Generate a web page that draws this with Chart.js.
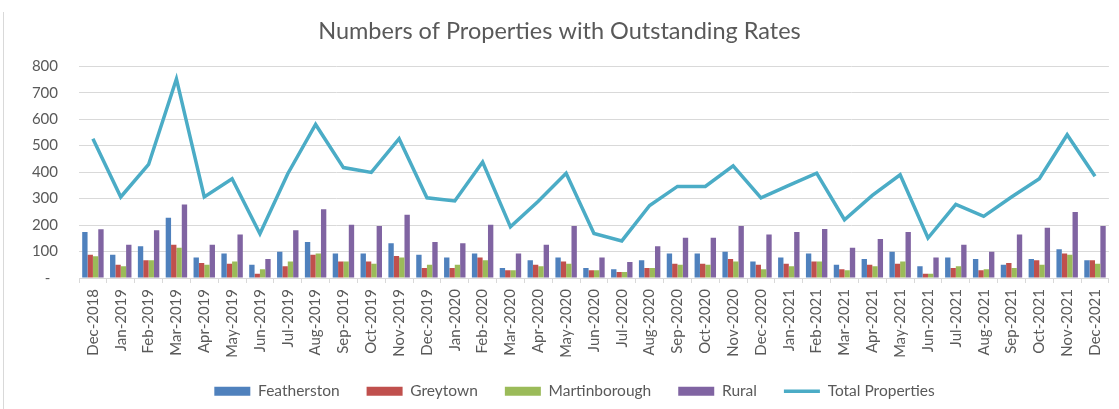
<!DOCTYPE html>
<html>
<head>
<meta charset="utf-8">
<script src="https://cdn.jsdelivr.net/npm/chart.js@4/dist/chart.umd.min.js"></script>
<style>
  html, body { margin: 0; padding: 0; background: #fff; }
  #wrap { position: relative; width: 1119px; height: 409px; }
  #edge { position: absolute; left: 3px; top: 12px; bottom: 0; border-left: 1px solid #d9d9d9; }
</style>
</head>
<body>
<div id="wrap">
  <div id="edge"></div>
  <canvas id="chart" width="1119" height="409"></canvas>
</div>
<script>
var months = ['Dec-2018', 'Jan-2019', 'Feb-2019', 'Mar-2019', 'Apr-2019', 'May-2019', 'Jun-2019',
  'Jul-2019', 'Aug-2019', 'Sep-2019', 'Oct-2019', 'Nov-2019', 'Dec-2019', 'Jan-2020', 'Feb-2020',
  'Mar-2020', 'Apr-2020', 'May-2020', 'Jun-2020', 'Jul-2020', 'Aug-2020', 'Sep-2020', 'Oct-2020',
  'Nov-2020', 'Dec-2020', 'Jan-2021', 'Feb-2021', 'Mar-2021', 'Apr-2021', 'May-2021', 'Jun-2021',
  'Jul-2021', 'Aug-2021', 'Sep-2021', 'Oct-2021', 'Nov-2021', 'Dec-2021'];

var featherston = [174, 88, 120, 228, 77, 93, 50, 99, 136, 93, 93, 131,
  88, 77, 93, 38, 67, 77, 38, 33, 67, 93, 93, 99,
  62, 77, 93, 50, 72, 99, 44, 77, 72, 50, 72, 109, 67];
var greytown = [88, 50, 67, 126, 57, 54, 16, 44, 88, 62, 62, 83,
  38, 38, 77, 29, 50, 62, 29, 23, 38, 54, 54, 72,
  50, 54, 62, 33, 50, 54, 16, 38, 29, 57, 67, 93, 67];
var martinborough = [82, 44, 67, 114, 50, 62, 33, 62, 93, 62, 54, 77,
  50, 50, 67, 29, 44, 54, 29, 23, 38, 50, 50, 62,
  33, 44, 62, 29, 44, 62, 16, 44, 33, 38, 50, 88, 54];
var rural = [184, 126, 180, 278, 126, 164, 72, 180, 260, 201, 196, 239,
  136, 131, 201, 93, 126, 196, 77, 60, 120, 152, 152, 196,
  164, 174, 185, 114, 147, 174, 77, 126, 99, 164, 190, 249, 196];
var totalProperties = [526, 306, 429, 752, 306, 375, 167, 394, 580, 417, 399, 526,
  303, 291, 438, 193, 290, 396, 168, 140, 274, 346, 346, 424,
  303, 350, 396, 220, 312, 390, 151, 278, 233, 306, 375, 541, 384];

var yTicks = [0, 100, 200, 300, 400, 500, 600, 700, 800];

var textColor = '#595959';
var gridColor = '#d9d9d9';
var fontName = 'Lato, "Open Sans", sans-serif';

function barSet(label, data, color) {
  return {
    type: 'bar',
    label: label,
    data: data,
    backgroundColor: color,
    borderWidth: 0,
    pointStyle: 'rect',
    order: 1
  };
}

// legend sits a little right of centre in the original
var legendShift = {
  id: 'legendShift',
  afterLayout: function (chart) {
    chart.legend.left += 15;
    chart.legend.right += 15;
  }
};

var ctx = document.getElementById('chart').getContext('2d');
new Chart(ctx, {
  data: {
    labels: months,
    datasets: [
      barSet('Featherston', featherston, '#4f81bd'),
      barSet('Greytown', greytown, '#c0504d'),
      barSet('Martinborough', martinborough, '#9bbb59'),
      barSet('Rural', rural, '#8064a2'),
      {
        type: 'line',
        label: 'Total Properties',
        data: totalProperties,
        borderColor: '#4bacc6',
        backgroundColor: '#4bacc6',
        borderWidth: 3.5,
        pointRadius: 0,
        pointStyle: 'line',
        tension: 0,
        order: 0
      }
    ]
  },
  plugins: [legendShift],
  options: {
    responsive: false,
    animation: false,
    layout: { padding: { left: 0, right: 0, top: 0, bottom: 0 } },
    datasets: {
      bar: { categoryPercentage: 0.77, barPercentage: 1.0 }
    },
    plugins: {
      title: {
        display: true,
        text: 'Numbers of Properties with Outstanding Rates',
        color: textColor,
        font: { family: fontName, size: 23.5, weight: 'normal' },
        padding: { top: 17, bottom: 21 }
      },
      legend: {
        position: 'bottom',
        labels: {
          color: textColor,
          font: { family: fontName, size: 15.5 },
          usePointStyle: true,
          pointStyleWidth: 36,
          boxHeight: 9,
          padding: 27,
          sort: function (a, b) { return a.datasetIndex - b.datasetIndex; }
        }
      },
      tooltip: { enabled: false }
    },
    scales: {
      x: {
        offset: true,
        grid: {
          display: true,
          drawOnChartArea: false,
          drawTicks: true,
          tickLength: 5,
          offset: true,
          color: gridColor
        },
        border: { display: true, color: gridColor },
        ticks: {
          color: textColor,
          font: { family: fontName, size: 15 },
          maxRotation: 90,
          minRotation: 90,
          autoSkip: false,
          padding: 6
        },
        afterFit: function (scale) { scale.height = 78.5; }
      },
      y: {
        min: 0,
        max: 800,
        grid: { color: gridColor, drawTicks: false },
        border: { display: false },
        afterBuildTicks: function (scale) {
          scale.ticks = yTicks.map(function (v) { return { value: v }; });
        },
        ticks: {
          color: textColor,
          font: { family: fontName, size: 15 },
          padding: 21,
          callback: function (v) { return v === 0 ? '-  ' : v; }
        },
        afterFit: function (scale) { scale.width = 79; }
      }
    }
  }
});
</script>
</body>
</html>
